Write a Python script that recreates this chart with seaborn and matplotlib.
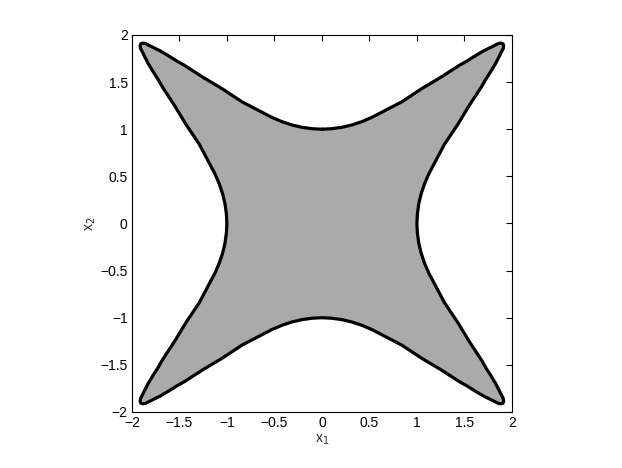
import numpy as np
import pandas as pd
import matplotlib
matplotlib.use("Agg")
import matplotlib.pyplot as plt
import seaborn as sns

# upper branch of the boundary in the first quadrant
# (goes from (0, 1) out towards the rounded tip near (1.9, 1.9))
branch_x1 = [0.0, 0.1, 0.21, 0.315, 0.42, 0.525, 0.63, 0.735, 0.84, 0.945,
             1.05, 1.15, 1.25, 1.35, 1.45, 1.53, 1.6, 1.7, 1.78, 1.83, 1.86]
branch_x2 = [1.0, 1.005, 1.02, 1.045, 1.08, 1.125, 1.18, 1.235, 1.29, 1.36,
             1.43, 1.49, 1.55, 1.615, 1.68, 1.725, 1.77, 1.83, 1.87, 1.895, 1.91]
# rounded tip of the arm
tip_x1 = [1.888, 1.906, 1.913]
tip_x2 = [1.913, 1.906, 1.888]

xticks = [-2, -1.5, -1, -0.5, 0, 0.5, 1, 1.5, 2]
yticks = [-2, -1.5, -1, -0.5, 0, 0.5, 1, 1.5, 2]
xtick_labels = ['\u22122', '\u22121.5', '\u22121', '\u22120.5', '0', '0.5', '1', '1.5', '2']
ytick_labels = xtick_labels

# first quadrant: top branch, tip, then the mirrored branch down to (1, 0)
bx = np.array(branch_x1)
by = np.array(branch_x2)
q_x = np.concatenate([bx, tip_x1, by[::-1]])
q_y = np.concatenate([by, tip_x2, bx[::-1]])

# the set is symmetric in both axes
xs = np.concatenate([q_x, q_x[::-1][1:], -q_x[1:], -q_x[::-1][1:]])
ys = np.concatenate([q_y, -q_y[::-1][1:], -q_y[1:], q_y[::-1][1:]])
df = pd.DataFrame({'x1': xs, 'x2': ys})

sns.set_style('white')
plt.rcParams['font.family'] = ['Liberation Sans', 'DejaVu Sans']

fig = plt.figure(figsize=(6.22, 4.68), dpi=100)
ax = fig.add_axes([0.212, 0.1197, 0.611, 0.8056])

ax.fill(df['x1'], df['x2'], color='#aaaaaa', zorder=1)
sns.lineplot(data=df, x='x1', y='x2', sort=False, estimator=None,
             color='black', linewidth=2.3, solid_joinstyle='round', ax=ax, zorder=2)

ax.set_xlim(-2, 2)
ax.set_ylim(-2, 2)
ax.set_xticks(xticks)
ax.set_xticklabels(xtick_labels)
ax.set_yticks(yticks)
ax.set_yticklabels(ytick_labels)
ax.tick_params(direction='in', length=4, width=0.8, top=True, right=True,
               labelsize=10, colors='black', pad=3)
for s in ax.spines.values():
    s.set_color('black')
    s.set_linewidth(0.8)

ax.set_xlabel('x$_1$', fontsize=10, labelpad=2)
ax.set_ylabel('x$_2$', fontsize=10, labelpad=2)

fig.savefig('out.png', dpi=100)
